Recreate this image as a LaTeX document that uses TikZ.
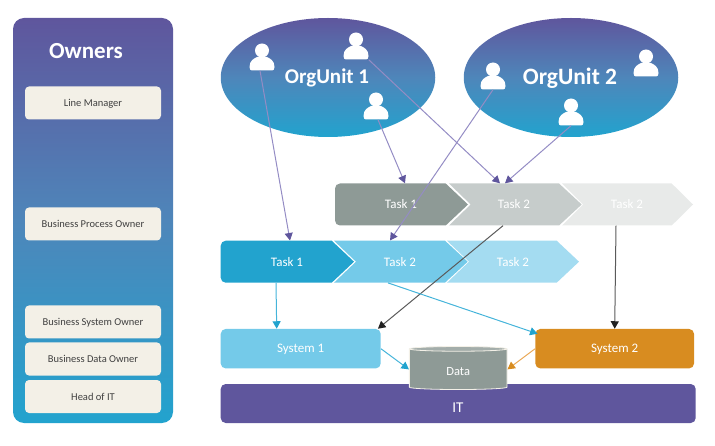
\documentclass[tikz,border=0pt]{standalone}
\usepackage{xcolor}
\usepackage{fontspec}
\setmainfont{Carlito}
\usetikzlibrary{shapes.geometric,arrows.meta,calc}

\definecolor{ownpurple}{HTML}{5F569D}
\definecolor{ownmid}{HTML}{4E86BA}
\definecolor{ownblue}{HTML}{22A3CE}
\definecolor{flowlilac}{HTML}{948CC4}
\definecolor{flowgrey}{HTML}{5A5A5A}
\definecolor{flowink}{HTML}{222222}
\definecolor{flowsky}{HTML}{45B4DA}
\definecolor{floworange}{HTML}{EAAA5A}
\definecolor{sysorange}{HTML}{D88C20}
\definecolor{cream}{HTML}{F3F0E7}
\definecolor{taskgreya}{HTML}{8E9A96}
\definecolor{taskgreyb}{HTML}{C6CCCB}
\definecolor{taskgreyc}{HTML}{E8EAE9}
\definecolor{taskbluea}{HTML}{22A3CE}
\definecolor{taskblueb}{HTML}{74CAE9}
\definecolor{taskbluec}{HTML}{A4DCF1}
\definecolor{cylcap}{HTML}{A3ADAA}

\tikzset{
  owneritem/.style={draw=none, fill=cream, rounded corners=4pt, minimum width=136pt, minimum height=33pt,
    inner sep=0pt, text=black!75, text height=7pt, text depth=0pt, font=\fontsize{10.5}{12}\selectfont},
  orgunit/.style={ellipse, top color=ownpurple, bottom color=ownblue, middle color=ownmid, minimum width=214.5pt, minimum height=119pt,
    inner sep=0pt},
  orgtext/.style={text=white, font=\fontsize{21}{24}\selectfont\bfseries},
  person/.style={minimum width=25pt, minimum height=27pt, inner sep=0pt,
    path picture={
      \fill[white, shift={(path picture bounding box.center)}] (0,-6.5) circle (7);
      \fill[white, shift={(path picture bounding box.center)}] (-12.5,10) .. controls (-12.5,3.5) and (-8,1.5) .. (-5,0)
        -- (5,0) .. controls (8,1.5) and (12.5,3.5) .. (12.5,10) .. controls (12.5,12.5) and (11.5,13.5) .. (10,13.5)
        -- (-10,13.5) .. controls (-11.5,13.5) and (-12.5,12.5) .. (-12.5,10) -- cycle;
    }},
  tasklabel/.style={minimum width=90pt, minimum height=42pt, inner sep=0pt, text=white, font=\fontsize{13}{15}\selectfont},
  sysbox/.style={rounded corners=5pt, minimum width=160pt, minimum height=39.5pt, inner sep=0pt, text=white,
    text height=8.5pt, text depth=0pt, font=\fontsize{13}{15}\selectfont},
  lilacflow/.style={draw=flowlilac, line width=1pt, -{Triangle[length=7.5pt,width=8pt,color=ownpurple]}},
  inkflow/.style={draw=flowgrey, line width=1pt, -{Triangle[length=7.5pt,width=8pt,color=flowink]}},
  skyflow/.style={draw=flowsky, line width=1pt, -{Triangle[length=7.5pt,width=8pt,color=ownblue]}},
  orangeflow/.style={draw=floworange, line width=1pt, -{Triangle[length=7.5pt,width=8pt,color=sysorange]}},
}

\begin{document}
\begin{tikzpicture}[x=1pt, y=-1pt]
    \useasboundingbox (0,0) rectangle (715,446);

    % Owners column
    \node[top color=ownpurple, bottom color=ownblue, middle color=ownmid, rounded corners=11pt, minimum width=160pt, minimum height=405pt, inner sep=0pt] (panel) at (93,220.5) {};
    \node[text=white, font=\fontsize{23}{26}\selectfont\bfseries] (ownerstitle) at (86,51) {Owners};
    \node[owneritem] (linemgr) at (93,103) {Line Manager};
    \node[owneritem] (procowner) at (93,224) {Business Process Owner};
    \node[owneritem] (sysowner) at (93,322) {Business System Owner};
    \node[owneritem] (dataowner) at (93,359) {Business Data Owner};
    \node[owneritem] (headit) at (93,396.5) {Head of IT};

    % Org units
    \node[orgunit] (orga) at (328,77.5) {};
    \node[orgunit] (orgb) at (571,77.5) {};
    \node[orgtext] (orgatext) at (327,78) {OrgUnit 1};
    \node[orgtext, font=\fontsize{23.5}{26}\selectfont\bfseries] (orgbtext) at (570,78) {OrgUnit 2};
    \node[person] (pa) at (262,57) {};
    \node[person] (pb) at (356,46) {};
    \node[person] (pc) at (376,106) {};
    \node[person] (pd) at (493,76) {};
    \node[person] (pe) at (646,63) {};
    \node[person] (pf) at (571,112) {};

    % Task chevrons, upper row
    \fill[taskgreya] (445.7,183.5) -- (468,204.5) -- (445.7,225.5) [rounded corners=5pt] -- (335,225.5) -- (335,183.5) [sharp corners] -- (445.7,183.5) -- cycle;
    \fill[taskgreyb] (449,183.5) -- (559,183.5) -- (581.7,204.5) -- (559,225.5) -- (449,225.5) -- (470.7,204.5) -- cycle;
    \fill[taskgreyc] (562,183.5) -- (671.7,183.5) -- (693,204.5) -- (671.7,225.5) -- (562,225.5) -- (583,204.5) -- cycle;
    \node[tasklabel] (topa) at (401,204.5) {Task 1};
    \node[tasklabel] (topb) at (514,204.5) {Task 2};
    \node[tasklabel] (topc) at (627,204.5) {Task 2};

    % Task chevrons, lower row
    \fill[taskbluea] (331.7,240.7) -- (354,261.7) -- (331.7,282.7) [rounded corners=5pt] -- (220.7,282.7) -- (220.7,240.7) [sharp corners] -- (331.7,240.7) -- cycle;
    \fill[taskblueb] (334,240.7) -- (445,240.7) -- (467.7,261.7) -- (445,282.7) -- (334,282.7) -- (356,261.7) -- cycle;
    \fill[taskbluec] (447,240.7) -- (556.7,240.7) -- (579,261.7) -- (556.7,282.7) -- (447,282.7) -- (469,261.7) -- cycle;
    \node[tasklabel] (lowa) at (287,261.7) {Task 1};
    \node[tasklabel] (lowb) at (400,261.7) {Task 2};
    \node[tasklabel] (lowc) at (513,261.7) {Task 2};

    % Systems and data
    \node[sysbox, fill=taskblueb] (sysa) at (300.7,348.7) {System 1};
    \node[sysbox, fill=sysorange, minimum width=158.7pt] (sysb) at (614.7,348.7) {System 2};
    \node[rounded corners=5pt, fill=ownpurple, minimum width=475pt, minimum height=39pt, inner sep=0pt] (itbar) at (458.2,403.5) {};
    \node[text=white, font=\fontsize{15}{17}\selectfont] (ittext) at (458,408) {IT};
    \node[cylinder, shape border rotate=90, aspect=0.2, draw=cream, line width=0.8pt, cylinder uses custom fill, cylinder body fill=taskgreya, cylinder end fill=cylcap,
        minimum width=97.7pt, minimum height=43pt, inner sep=0pt, text=white, text height=12.6pt, text depth=0pt, font=\fontsize{12.5}{14}\selectfont] (data) at (458.2,369.4) {Data};

    % Connectors
    \draw[lilacflow] ([xshift=-2pt]pa.south) -- ([xshift=3pt]lowa.north);
    \draw[lilacflow] (pb.south east) -- ([xshift=-14pt]topb.north);
    \draw[lilacflow] ([xshift=2pt]pc.south) -- ([xshift=4pt]topa.north);
    \draw[lilacflow] (pd.south) -- ([xshift=-10pt]lowb.north);
    \draw[lilacflow] (pf.south) -- ([xshift=-9pt]topb.north);
    \draw[inkflow] ([xshift=-11pt]topb.south) -- ([xshift=-3pt]sysa.north east);
    \draw[inkflow] ([xshift=-11pt]topc.south) -- (sysb.north);
    \draw[skyflow] ([xshift=-11pt]lowa.south) -- ([xshift=-24pt]sysa.north);
    \draw[skyflow] ([xshift=-12pt]lowb.south) -- ([xshift=2.4pt,yshift=-5pt]sysb.north west);
    \draw[skyflow] (sysa.east) -- (data.west);
    \draw[orangeflow] (sysb.west) -- (data.east);
\end{tikzpicture}
\end{document}
